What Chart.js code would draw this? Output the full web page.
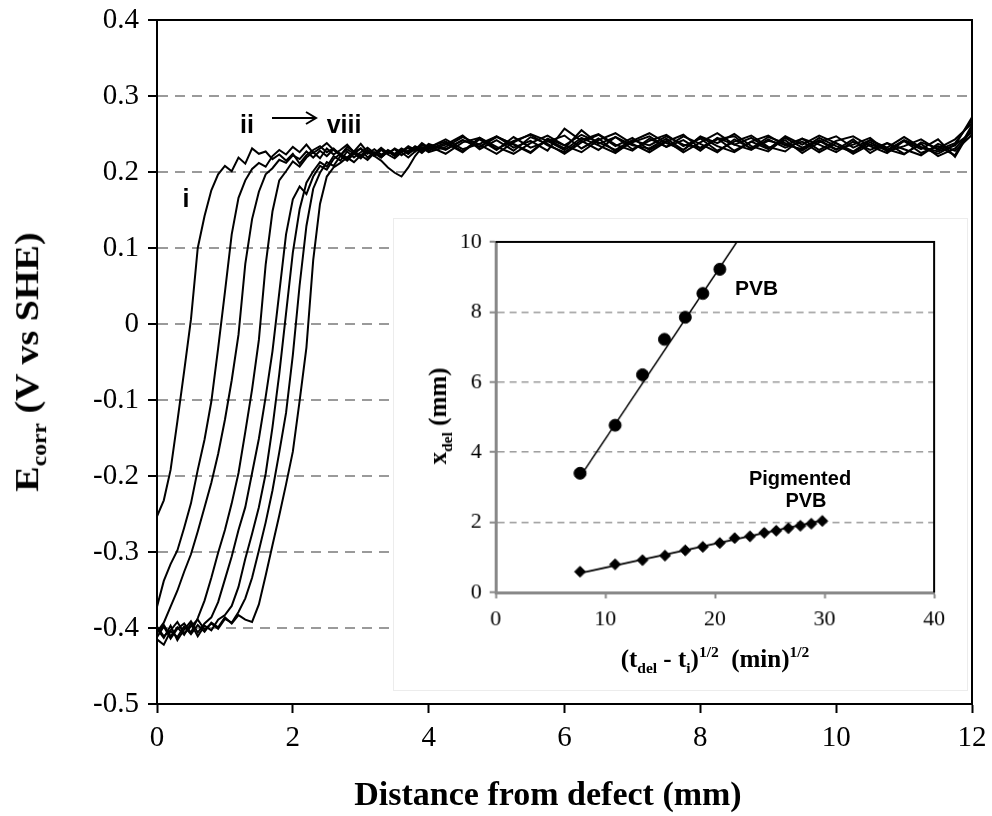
<!DOCTYPE html>
<html>
<head>
<meta charset="utf-8">
<script src="https://cdn.jsdelivr.net/npm/chart.js@4.4.0/dist/chart.umd.min.js"></script>
<style>
  html, body { margin: 0; padding: 0; background: #fff; }
  #wrap { position: relative; width: 992px; height: 816px; overflow: hidden; }
  #main { position: absolute; left: 0; top: 0; }
  #inset { position: absolute; left: 393px; top: 218px; background: #fff; border: 1px solid #ececec; box-sizing: border-box; }
  .lbl { position: absolute; white-space: nowrap; color: #000; }
  .serif { font-family: "Liberation Serif", "DejaVu Serif", serif; font-weight: bold; }
  .sans { font-family: "Liberation Sans", Arial, sans-serif; font-weight: bold; }
  .rot { transform: translate(-50%, -50%) rotate(-90deg); }
  .ctr { transform: translate(-50%, -50%); }
  sub, sup { font-size: 62%; }
</style>
</head>
<body>
<div id="wrap">
  <canvas id="main" width="992" height="816"></canvas>
  <canvas id="inset" width="575" height="473"></canvas>

  <div class="lbl serif" style="left:30px; top:362px; font-size:34px; transform: translate(-50%, -50%) rotate(-90deg) scaleX(1.12);">E<sub>corr</sub> (V vs SHE)</div>
  <div class="lbl serif ctr" style="left:548px; top:794px; font-size:34px;">Distance from defect (mm)</div>
  <div class="lbl serif rot" style="left:440px; top:416px; font-size:25px;">x<sub>del</sub> (mm)</div>
  <div class="lbl serif ctr" style="left:715px; top:660px; font-size:25px;">(t<sub>del</sub> - t<sub>i</sub>)<sup>1/2</sup>&nbsp; (min)<sup>1/2</sup></div>

  <div class="lbl sans ctr" style="left:186px; top:198px; font-size:25px;">i</div>
  <div class="lbl sans ctr" style="left:247px; top:124px; font-size:25px;">ii</div>
  <div class="lbl sans ctr" style="left:344px; top:124px; font-size:25px;">viii</div>
  <svg style="position:absolute; left:270px; top:110px;" width="50" height="16">
    <line x1="2" y1="8" x2="46" y2="8" stroke="#000" stroke-width="2"/>
    <polyline points="36,2 46,8 36,14" fill="none" stroke="#000" stroke-width="2"/>
  </svg>

  <div class="lbl sans" style="left:735px; top:276px; font-size:21px;">PVB</div>
  <div class="lbl sans ctr" style="left:800px; top:478px; font-size:20px;">Pigmented</div>
  <div class="lbl sans ctr" style="left:806px; top:500px; font-size:20px;">PVB</div>
</div>

<script>
(function () {
    'use strict';

    // distance from defect (mm), shared by all eight scans
    var dist = [
        0, 0.1, 0.2, 0.3, 0.4, 0.5, 0.6, 0.7, 0.8, 0.9,
        1.0, 1.1, 1.2, 1.3, 1.4, 1.5, 1.6, 1.7, 1.8, 1.9,
        2.0, 2.1, 2.2, 2.3, 2.4, 2.5, 2.6, 2.7, 2.8, 2.9,
        3.0, 3.1, 3.2, 3.3, 3.4, 3.5, 3.6, 3.7, 3.8, 3.9, 4.0,
        4.25, 4.5, 4.75, 5, 5.25, 5.5, 5.75, 6, 6.25, 6.5, 6.75, 7,
        7.25, 7.5, 7.75, 8, 8.25, 8.5, 8.75, 9, 9.25, 9.5, 9.75, 10,
        10.25, 10.5, 10.75, 11, 11.25, 11.5, 11.75, 12
    ];

    // Ecorr (V vs SHE), scans i -> viii
    var scanI = [
        -0.253, -0.232, -0.192, -0.128, -0.062, 0.006, 0.100, 0.142, 0.176, 0.197,
        0.208, 0.201, 0.219, 0.211, 0.231, 0.224, 0.227, 0.217, 0.223, 0.215,
        0.224, 0.211, 0.222, 0.229, 0.234, 0.226, 0.231, 0.222, 0.233, 0.227,
        0.237, 0.226, 0.221, 0.229, 0.223, 0.218, 0.226, 0.232, 0.227, 0.236, 0.230,
        0.238, 0.226, 0.243, 0.229, 0.246, 0.232, 0.240, 0.248, 0.231, 0.244, 0.227, 0.239,
        0.247, 0.233, 0.242, 0.228, 0.245, 0.236, 0.229, 0.243, 0.232, 0.240, 0.226, 0.238,
        0.224, 0.236, 0.229, 0.241, 0.225, 0.234, 0.222, 0.262
    ];
    var scanII = [
        -0.372, -0.338, -0.316, -0.298, -0.268, -0.236, -0.192, -0.152, -0.102, -0.032,
        0.042, 0.118, 0.166, 0.189, 0.204, 0.212, 0.207, 0.221, 0.229, 0.223,
        0.233, 0.226, 0.236, 0.225, 0.231, 0.238, 0.229, 0.222, 0.230, 0.224,
        0.231, 0.219, 0.226, 0.221, 0.229, 0.224, 0.231, 0.226, 0.234, 0.229, 0.237,
        0.229, 0.242, 0.233, 0.247, 0.236, 0.225, 0.243, 0.231, 0.255, 0.237, 0.246, 0.230,
        0.241, 0.249, 0.234, 0.244, 0.228, 0.240, 0.248, 0.233, 0.227, 0.244, 0.236, 0.226,
        0.240, 0.229, 0.238, 0.224, 0.237, 0.221, 0.231, 0.255
    ];
    var scanIII = [
        -0.405, -0.393, -0.372, -0.351, -0.326, -0.303, -0.273, -0.241, -0.209, -0.171,
        -0.126, -0.074, -0.014, 0.079, 0.138, 0.174, 0.197, 0.205, 0.216, 0.212,
        0.222, 0.217, 0.227, 0.219, 0.228, 0.221, 0.230, 0.224, 0.219, 0.227,
        0.222, 0.229, 0.224, 0.232, 0.225, 0.230, 0.222, 0.228, 0.233, 0.226, 0.234,
        0.224, 0.239, 0.245, 0.230, 0.241, 0.249, 0.235, 0.226, 0.242, 0.250, 0.236, 0.228,
        0.244, 0.233, 0.247, 0.237, 0.226, 0.243, 0.231, 0.246, 0.238, 0.228, 0.242, 0.230,
        0.236, 0.245, 0.227, 0.234, 0.243, 0.229, 0.238, 0.268
    ];
    var scanIV = [
        -0.412, -0.398, -0.414, -0.401, -0.394, -0.406, -0.387, -0.364, -0.334, -0.301,
        -0.271, -0.236, -0.196, -0.142, -0.086, -0.021, 0.078, 0.148, 0.189, 0.201,
        0.214, 0.207, 0.219, 0.226, 0.218, 0.231, 0.223, 0.229, 0.236, 0.226,
        0.231, 0.224, 0.230, 0.223, 0.228, 0.221, 0.227, 0.234, 0.229, 0.238, 0.232,
        0.243, 0.230, 0.237, 0.247, 0.232, 0.241, 0.228, 0.257, 0.241, 0.229, 0.246, 0.235,
        0.231, 0.244, 0.229, 0.247, 0.238, 0.250, 0.234, 0.227, 0.245, 0.232, 0.241, 0.229,
        0.243, 0.225, 0.238, 0.230, 0.222, 0.237, 0.228, 0.249
    ];
    var scanV = [
        -0.401, -0.413, -0.397, -0.416, -0.402, -0.391, -0.406, -0.394, -0.386, -0.366,
        -0.336, -0.306, -0.271, -0.241, -0.196, -0.151, -0.096, -0.036, 0.041, 0.118,
        0.164, 0.181, 0.171, 0.194, 0.208, 0.203, 0.217, 0.224, 0.216, 0.226,
        0.219, 0.227, 0.221, 0.215, 0.206, 0.199, 0.194, 0.206, 0.221, 0.232, 0.226,
        0.233, 0.246, 0.236, 0.224, 0.239, 0.250, 0.241, 0.229, 0.245, 0.235, 0.225, 0.241,
        0.251, 0.238, 0.229, 0.246, 0.234, 0.226, 0.240, 0.248, 0.235, 0.244, 0.229, 0.241,
        0.247, 0.234, 0.225, 0.241, 0.230, 0.243, 0.220, 0.258
    ];
    var scanVI = [
        -0.406, -0.396, -0.411, -0.399, -0.409, -0.394, -0.411, -0.397, -0.403, -0.389,
        -0.383, -0.371, -0.346, -0.309, -0.276, -0.241, -0.197, -0.136, -0.066, 0.014,
        0.094, 0.151, 0.186, 0.201, 0.213, 0.207, 0.221, 0.215, 0.227, 0.219,
        0.226, 0.232, 0.225, 0.219, 0.227, 0.221, 0.229, 0.224, 0.231, 0.225, 0.233,
        0.240, 0.227, 0.245, 0.233, 0.224, 0.238, 0.248, 0.235, 0.226, 0.242, 0.251, 0.237,
        0.226, 0.240, 0.249, 0.231, 0.244, 0.228, 0.240, 0.230, 0.247, 0.236, 0.248, 0.238,
        0.227, 0.242, 0.232, 0.246, 0.232, 0.224, 0.236, 0.252
    ];
    var scanVII = [
        -0.398, -0.411, -0.403, -0.392, -0.407, -0.398, -0.389, -0.402, -0.394, -0.401,
        -0.388, -0.393, -0.379, -0.361, -0.334, -0.298, -0.261, -0.219, -0.169, -0.117,
        -0.041, 0.051, 0.129, 0.178, 0.199, 0.213, 0.208, 0.221, 0.215, 0.224,
        0.218, 0.228, 0.222, 0.230, 0.224, 0.231, 0.226, 0.219, 0.227, 0.233, 0.228,
        0.236, 0.248, 0.230, 0.242, 0.228, 0.246, 0.237, 0.224, 0.239, 0.249, 0.234, 0.245,
        0.229, 0.241, 0.226, 0.239, 0.251, 0.236, 0.245, 0.231, 0.242, 0.225, 0.239, 0.247,
        0.232, 0.242, 0.230, 0.223, 0.239, 0.231, 0.243, 0.264
    ];
    var scanVIII = [
        -0.415, -0.422, -0.404, -0.412, -0.398, -0.408, -0.396, -0.405, -0.393, -0.399,
        -0.386, -0.394, -0.383, -0.389, -0.392, -0.369, -0.331, -0.291, -0.252, -0.211,
        -0.168, -0.101, -0.031, 0.084, 0.158, 0.194, 0.206, 0.212, 0.219, 0.213,
        0.222, 0.216, 0.225, 0.219, 0.227, 0.222, 0.230, 0.224, 0.231, 0.227, 0.235,
        0.230, 0.242, 0.233, 0.246, 0.237, 0.226, 0.244, 0.235, 0.249, 0.239, 0.229, 0.242,
        0.235, 0.247, 0.236, 0.232, 0.243, 0.247, 0.230, 0.241, 0.236, 0.230, 0.245, 0.234,
        0.226, 0.239, 0.228, 0.242, 0.233, 0.227, 0.235, 0.272
    ];
    var scans = [scanI, scanII, scanIII, scanIV, scanV, scanVI, scanVII, scanVIII];
    var scanNames = ['i', 'ii', 'iii', 'iv', 'v', 'vi', 'vii', 'viii'];

    // inset: x_del (mm) vs (t_del - t_i)^1/2
    var pvbRootT = [7.7, 10.9, 13.4, 15.4, 17.3, 18.9, 20.45];
    var pvbXdel = [3.4, 4.77, 6.21, 7.22, 7.85, 8.53, 9.22];
    var pvbFitT = [7.7, 22.0];
    var pvbFitX = [3.3, 10.0];

    var pigRootT = [7.7, 10.9, 13.4, 15.45, 17.3, 18.9, 20.45, 21.8, 23.2, 24.5, 25.6, 26.7, 27.8, 28.8, 29.8];
    var pigXdel = [0.59, 0.80, 0.92, 1.05, 1.20, 1.30, 1.41, 1.55, 1.60, 1.70, 1.76, 1.83, 1.90, 1.96, 2.04];
    var pigFitT = [7.7, 30.0];
    var pigFitX = [0.55, 2.07];

    var mainXTicks = [0, 2, 4, 6, 8, 10, 12];
    var insetXTicks = [0, 10, 20, 30, 40];

    function pairs(xs, ys) {
        var out = [];
        for (var i = 0; i < xs.length; i++) {
            out.push({ x: xs[i], y: ys[i] });
        }
        return out;
    }

    // top + right frame lines around the plot area
    var framePlugin = {
        id: 'frame',
        afterDraw: function (chart, args, opts) {
            var a = chart.chartArea;
            var ctx = chart.ctx;
            ctx.save();
            ctx.strokeStyle = opts.color || '#000';
            ctx.lineWidth = opts.width || 2;
            ctx.beginPath();
            ctx.moveTo(a.left, a.top);
            ctx.lineTo(a.right, a.top);
            ctx.lineTo(a.right, a.bottom);
            ctx.stroke();
            ctx.restore();
        }
    };

    function buildMain() {
        var datasets = [];
        for (var i = 0; i < scans.length; i++) {
            datasets.push({
                label: scanNames[i],
                data: pairs(dist, scans[i]),
                borderColor: '#000',
                borderWidth: 2,
                pointRadius: 0,
                tension: 0,
                fill: false
            });
        }

        new Chart(document.getElementById('main'), {
            type: 'line',
            data: { datasets: datasets },
            plugins: [framePlugin],
            options: {
                responsive: false,
                animation: false,
                devicePixelRatio: 1,
                layout: { padding: { left: 0, right: 20, top: 20, bottom: 0 } },
                plugins: {
                    legend: { display: false },
                    tooltip: { enabled: false },
                    frame: { color: '#000', width: 2 }
                },
                scales: {
                    x: {
                        type: 'linear',
                        min: 0,
                        max: 12,
                        afterFit: function (s) {
                            s.height = 112;
                            s.paddingLeft = 0;
                            s.paddingRight = 0;
                        },
                        afterBuildTicks: function (s) {
                            s.ticks = mainXTicks.map(function (v) { return { value: v }; });
                        },
                        ticks: {
                            color: '#000',
                            padding: 8,
                            maxRotation: 0,
                            font: { family: '"Liberation Serif", serif', size: 29 }
                        },
                        grid: { drawOnChartArea: false, drawTicks: true, tickLength: 9, color: '#000', tickWidth: 2 },
                        border: { color: '#000', width: 2 }
                    },
                    y: {
                        type: 'linear',
                        min: -0.5,
                        max: 0.4,
                        afterFit: function (s) {
                            s.width = 157;
                            s.paddingTop = 0;
                            s.paddingBottom = 0;
                        },
                        ticks: {
                            stepSize: 0.1,
                            color: '#000',
                            padding: 9,
                            font: { family: '"Liberation Serif", serif', size: 29 },
                            callback: function (v) {
                                return String(Math.round(v * 10) / 10);
                            }
                        },
                        grid: {
                            color: function (c) {
                                var v = Math.round(c.tick.value * 10) / 10;
                                return (v === 0.4 || v === -0.5) ? 'rgba(0,0,0,0)' : '#9a9a9a';
                            },
                            lineWidth: 2,
                            tickColor: '#000',
                            tickWidth: 2,
                            tickLength: 9,
                            tickBorderDash: []
                        },
                        border: { color: '#000', width: 2, dash: [10, 7] }
                    }
                }
            }
        });
    }

    function buildInset() {
        new Chart(document.getElementById('inset'), {
            type: 'scatter',
            data: {
                datasets: [
                    {
                        label: 'PVB fit',
                        type: 'line',
                        data: pairs(pvbFitT, pvbFitX),
                        borderColor: '#000',
                        borderWidth: 1.5,
                        pointRadius: 0,
                        tension: 0
                    },
                    {
                        label: 'PVB',
                        data: pairs(pvbRootT, pvbXdel),
                        pointStyle: 'circle',
                        pointRadius: 6,
                        backgroundColor: '#000',
                        borderColor: '#000'
                    },
                    {
                        label: 'Pigmented PVB fit',
                        type: 'line',
                        data: pairs(pigFitT, pigFitX),
                        borderColor: '#000',
                        borderWidth: 2,
                        pointRadius: 0,
                        tension: 0
                    },
                    {
                        label: 'Pigmented PVB',
                        data: pairs(pigRootT, pigXdel),
                        pointStyle: 'rectRot',
                        pointRadius: 5.5,
                        backgroundColor: '#000',
                        borderColor: '#000'
                    }
                ]
            },
            plugins: [framePlugin],
            options: {
                responsive: false,
                animation: false,
                devicePixelRatio: 1,
                layout: { padding: { left: 0, right: 33, top: 23, bottom: 0 } },
                plugins: {
                    legend: { display: false },
                    tooltip: { enabled: false },
                    frame: { color: '#000', width: 2 }
                },
                scales: {
                    x: {
                        type: 'linear',
                        min: 0,
                        max: 40,
                        afterFit: function (s) {
                            s.height = 98;
                            s.paddingLeft = 0;
                            s.paddingRight = 0;
                        },
                        afterBuildTicks: function (s) {
                            s.ticks = insetXTicks.map(function (v) { return { value: v }; });
                        },
                        ticks: {
                            color: '#000',
                            padding: 8,
                            maxRotation: 0,
                            font: { family: '"Liberation Serif", serif', size: 22 }
                        },
                        grid: { drawOnChartArea: false, drawTicks: true, tickLength: 6, color: '#888', tickWidth: 2 },
                        border: { color: '#888', width: 3 }
                    },
                    y: {
                        type: 'linear',
                        min: 0,
                        max: 10,
                        afterFit: function (s) {
                            s.width = 102;
                            s.paddingTop = 0;
                            s.paddingBottom = 0;
                        },
                        ticks: {
                            stepSize: 2,
                            color: '#000',
                            padding: 8,
                            font: { family: '"Liberation Serif", serif', size: 22 }
                        },
                        grid: {
                            color: function (c) {
                                return (c.tick.value === 0 || c.tick.value === 10) ? 'rgba(0,0,0,0)' : '#9a9a9a';
                            },
                            lineWidth: 1.5,
                            tickColor: '#888',
                            tickWidth: 2,
                            tickLength: 6,
                            tickBorderDash: []
                        },
                        border: { color: '#888', width: 3, dash: [7, 5] }
                    }
                }
            }
        });
    }

    buildMain();
    buildInset();
})();
</script>
</body>
</html>
